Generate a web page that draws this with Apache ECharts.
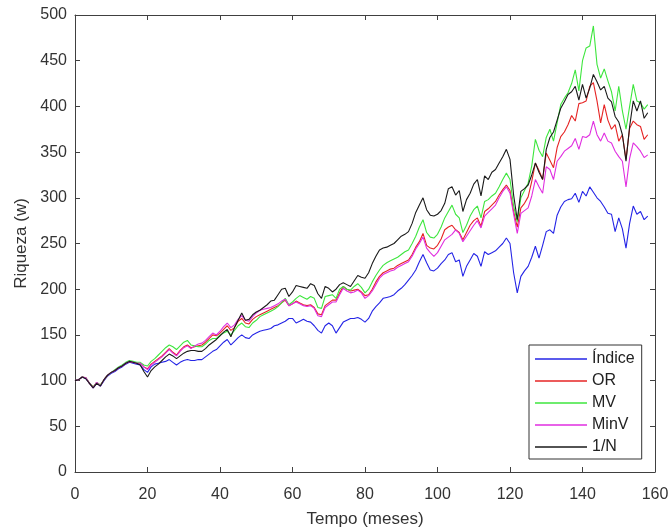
<!DOCTYPE html>
<html>
<head>
<meta charset="utf-8">
<script src="https://cdn.jsdelivr.net/npm/echarts@6/dist/echarts.min.js"></script>
<style>html,body{margin:0;padding:0;background:#fff;}#c{width:671px;height:528px;}</style>
</head>
<body>
<div id="c"></div>
<script>
var seriesNames = ['Índice', 'OR', 'MV', 'MinV', '1/N'];
var xTicks = [0, 20, 40, 60, 80, 100, 120, 140, 160];
var yTicks = [0, 50, 100, 150, 200, 250, 300, 350, 400, 450, 500];

var indice = [
100,101,104,102,97,92,97,94,100,105,
108,110,113,115,118,120,119,118,117,112,
109,115,118,119,120,121,123,120,117,120,
122,123,122,122,123,123,126,129,132,134,
138,142,145,139,143,147,150,147,146,150,
152,154,155,156,157,160,161,163,165,168,
168,163,165,167,165,164,160,155,152,160,
163,160,152,158,164,166,168,168,169,167,
164,168,176,181,185,190,191,192,194,198,
201,205,210,215,221,230,238,229,221,220,
223,228,232,238,240,230,232,214,225,232,
239,236,225,241,238,240,242,246,250,256,
250,218,196,214,220,225,235,247,234,248,
263,265,261,281,290,296,298,299,305,295,
307,302,312,306,300,296,290,283,282,263,
278,266,245,272,291,282,285,276,280];

var orS = [
100,101,104,103,97,93,98,95,101,106,
109,111,114,116,119,121,120,119,119,115,
113,118,121,124,127,131,135,131,128,133,
137,139,136,137,138,139,142,146,150,149,
152,156,160,155,158,165,168,163,162,167,
170,172,174,176,178,180,182,185,188,182,
184,187,185,183,182,183,180,173,172,182,
185,188,188,196,203,200,198,199,200,197,
193,194,200,208,214,218,220,222,223,226,
228,230,232,238,246,252,261,248,245,244,
248,255,265,268,270,265,262,254,262,270,
275,278,269,285,288,292,296,303,309,314,
308,285,268,289,294,301,318,338,330,320,
349,341,333,355,367,372,380,390,384,403,
404,406,422,426,406,382,402,385,375,380,
362,369,342,376,384,380,378,364,369];

var mv = [
100,101,104,103,97,93,98,95,101,106,
109,112,115,117,120,122,121,120,120,117,
116,121,124,128,132,136,139,137,134,138,
142,144,139,138,137,137,140,144,146,146,
150,152,154,150,155,160,163,159,158,163,
166,170,172,174,176,178,181,185,190,183,
186,190,193,191,189,192,190,180,179,192,
193,194,190,200,203,200,199,203,206,202,
196,200,208,215,221,226,229,231,233,235,
238,241,243,250,258,268,276,262,257,256,
260,268,278,285,292,282,278,262,270,280,
287,291,278,296,298,302,305,312,320,327,
320,291,274,300,308,316,335,364,352,345,
366,375,362,382,402,409,415,425,440,417,
450,464,466,488,446,431,441,428,416,395,
422,395,375,400,424,406,404,397,402];

var minv = [
100,101,104,103,97,92,98,94,101,106,
109,111,114,116,119,121,120,119,119,115,
112,117,120,123,126,130,134,130,127,132,
136,138,135,138,140,141,144,148,152,150,
154,159,163,158,161,167,171,166,165,170,
174,177,178,179,180,182,184,187,189,182,
184,186,184,182,181,182,179,171,170,180,
183,186,186,194,201,198,196,197,199,196,
190,193,198,205,212,216,218,220,221,224,
226,228,230,236,244,250,257,245,240,236,
240,247,254,257,260,265,261,252,258,264,
270,275,267,280,284,288,292,300,307,312,
305,282,261,283,286,289,302,320,312,305,
334,331,320,340,345,351,354,357,365,353,
367,366,369,384,369,362,371,362,360,351,
345,340,312,343,360,356,351,344,347];

var eq = [
100,101,104,102,97,92,97,94,101,106,
109,111,114,116,119,121,120,119,117,110,
104,111,115,118,122,126,129,127,124,127,
130,132,133,133,132,132,135,139,142,145,
149,153,156,148,158,166,174,166,167,172,
175,177,180,183,187,188,194,200,201,192,
197,204,203,202,201,206,204,195,190,203,
201,197,200,205,207,205,203,209,215,213,
212,218,228,236,243,245,246,248,250,254,
258,260,263,272,284,292,300,287,281,280,
282,286,294,310,312,303,308,285,298,305,
315,320,302,324,320,328,331,338,345,353,
342,303,276,307,310,314,325,338,328,320,
353,366,372,385,398,405,413,416,422,407,
424,409,420,435,427,418,422,409,405,389,
383,369,340,378,406,395,406,387,393];

var colors = ['#2424e6', '#e62424', '#3ee63e', '#e02ee0', '#1a1a1a'];
var allData = [indice, orS, mv, minv, eq];

function pairs(arr) {
  return arr.map(function (v, i) { return [i, v]; });
}

var chart = echarts.init(document.getElementById('c'), null, {renderer: 'canvas'});
var axisColor = '#404040';
var font = 'Liberation Sans, Arial, Helvetica, sans-serif';

function xAx(pos, showLabel) {
  return {
    type: 'value', position: pos, min: xTicks[0], max: xTicks[xTicks.length - 1], interval: 20,
    axisLine: {show: true, onZero: false, lineStyle: {color: axisColor, width: 1}},
    axisTick: {show: true, inside: true, length: 5, lineStyle: {color: axisColor}},
    splitLine: {show: false},
    axisLabel: {show: showLabel, fontSize: 16, color: '#333', margin: 15, fontFamily: font},
    name: showLabel ? 'Tempo (meses)' : '', nameLocation: 'middle', nameGap: 39,
    nameTextStyle: {fontSize: 17, color: '#333', fontFamily: font}
  };
}
function yAx(pos, showLabel) {
  return {
    type: 'value', position: pos, min: yTicks[0], max: yTicks[yTicks.length - 1], interval: 50,
    axisLine: {show: true, onZero: false, lineStyle: {color: axisColor, width: 1}},
    axisTick: {show: true, inside: true, length: 5, lineStyle: {color: axisColor}},
    splitLine: {show: false},
    axisLabel: {show: showLabel, fontSize: 16, color: '#333', margin: 8, fontFamily: font},
    name: showLabel ? 'Riqueza (w)' : '', nameLocation: 'middle', nameGap: 45,
    nameTextStyle: {fontSize: 17, color: '#333', fontFamily: font}
  };
}

var series = seriesNames.map(function (n, k) {
  return {
    name: n, type: 'line', xAxisIndex: 0, yAxisIndex: 0,
    data: pairs(allData[k]), symbol: 'none', showSymbol: false,
    color: colors[k], lineStyle: {color: colors[k], width: 1.1},
    z: 2 + k
  };
});

chart.setOption({
  animation: false,
  backgroundColor: '#fff',
  grid: {left: 75, right: 16, top: 15, bottom: 56, containLabel: false, outerBoundsMode: 'none'},
  xAxis: [xAx('bottom', true), xAx('top', false)],
  yAxis: [yAx('left', true), yAx('right', false)],
  legend: {
    data: seriesNames, orient: 'vertical', left: 529, top: 345,
    icon: 'rect', itemWidth: 52, itemHeight: 1.5, itemGap: 6,
    padding: [6, 7, 4, 6],
    backgroundColor: '#fff', borderColor: '#333', borderWidth: 1,
    textStyle: {fontSize: 16, color: '#222', fontFamily: font}
  },
  series: series
});
</script>
</body>
</html>
